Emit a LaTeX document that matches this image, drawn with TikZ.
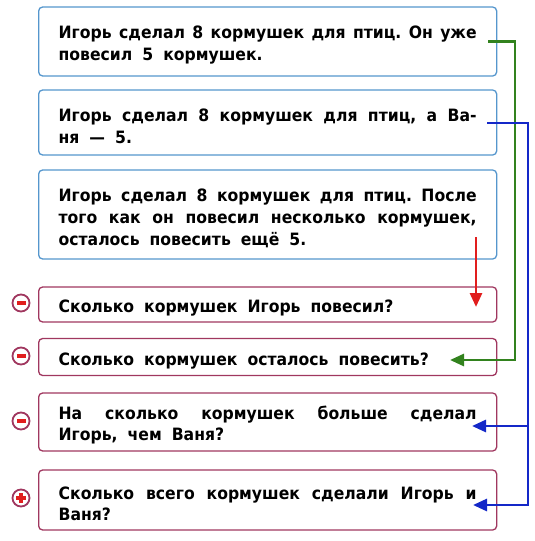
\documentclass[tikz,border=0pt]{standalone}
\usepackage{fontspec}
\setmainfont{DejaVu Sans}
\newfontfamily\boxff[FakeStretch=0.92]{DejaVu Sans}
\usetikzlibrary{arrows.meta}
\definecolor{boxblue}{RGB}{85,150,205}
\definecolor{boxred}{RGB}{160,55,95}
\definecolor{lnkgreen}{RGB}{50,130,30}
\definecolor{lnkblue}{RGB}{20,40,200}
\definecolor{lnkred}{RGB}{225,30,30}
\hbadness=10000
\frenchspacing
\newcommand\wsp{\spaceskip=10pt plus 40pt minus 4pt\xspaceskip=10pt plus 40pt minus 4pt\relax}
\newcommand\boxfont{\boxff\fontsize{17}{22}\bfseries\selectfont}
\newcommand\jline[1]{\makebox[418pt][s]{\wsp #1}}
\begin{document}
\begin{tikzpicture}[x=1pt,y=-1pt,
    txt/.style={anchor=west,rounded corners=4pt,line width=1.3pt,inner xsep=20pt,
      text width=418pt,align=left,font=\boxfont,execute at begin node={\wsp\rule{0pt}{20pt}}},
    given/.style={txt,draw=boxblue},
    quest/.style={txt,draw=boxred,font=\boxfont\fontsize{17}{20.5}\selectfont},
    sign/.style={circle,draw=boxred,line width=1.8pt,minimum size=17pt,inner sep=0pt},
    minus/.style={sign,path picture={\fill[lnkred] ([xshift=-4.5pt,yshift=-2pt]path picture bounding box.center) rectangle ++(9pt,4pt);}},
    plus/.style={sign,path picture={\fill[lnkred] ([xshift=-5pt,yshift=-2pt]path picture bounding box.center) rectangle ++(10pt,4pt);
      \fill[lnkred] ([xshift=-2pt,yshift=-5pt]path picture bounding box.center) rectangle ++(4pt,10pt);}},
    link/.style={line width=2.8pt,-{Triangle[length=14pt,width=12pt]}}]
    \useasboundingbox (0,0) rectangle (535,541);

    \node[given,minimum width=458pt,minimum height=69pt] (t1) at (38,41.5) {\jline{Игорь сделал 8 кормушек для птиц. Он уже}\\ повесил 5 кормушек.};
    \node[given,minimum width=458pt,minimum height=65pt] (t2) at (38,122.5) {\jline{Игорь сделал 8 кормушек для птиц, а Ва-}\\ ня — 5.};
    \node[given,minimum width=458pt,minimum height=89pt] (t3) at (38,214.5) {\jline{Игорь сделал 8 кормушек для птиц. После}\\ \jline{того как он повесил несколько кормушек,}\\ осталось повесить ещё 5.};
    \node[quest,minimum width=458pt,minimum height=35pt] (q1) at (38,304.5) {Сколько кормушек Игорь повесил?};
    \node[quest,minimum width=458pt,minimum height=37pt] (q2) at (38,357) {Сколько кормушек осталось повесить?};
    \node[quest,minimum width=458pt,minimum height=58pt] (q3) at (38,422) {\jline{На сколько кормушек больше сделал}\\ Игорь, чем Ваня?};
    \node[quest,minimum width=458pt,minimum height=60pt] (q4) at (38,500) {\jline{Сколько всего кормушек сделали Игорь и}\\ Ваня?};

    \node[minus] (s1) at (21,303) {};
    \node[minus] (s2) at (21,356) {};
    \node[minus] (s3) at (21,421) {};
    \node[plus] (s4) at (21,498) {};

    \coordinate (g0) at (488,41.5);
    \coordinate (g1) at (515,41.5);
    \coordinate (g2) at (450,360);
    \coordinate (b0) at (487,123);
    \coordinate (b1) at (528,123);
    \coordinate (b2) at (472,426);
    \coordinate (b3) at (473,505);
    \coordinate (r0) at (476,237);
    \coordinate (r1) at (476,307);
    \draw[link,lnkgreen]  (g0) -- (g1) |- (g2);
    \draw[link,lnkblue]  (b0) -- (b1) |- (b3);
    \draw[link,lnkblue]  (b1 |- b2) -- (b2);
    \draw[link,lnkred]  (r0) -- (r1);
\end{tikzpicture}
\end{document}
